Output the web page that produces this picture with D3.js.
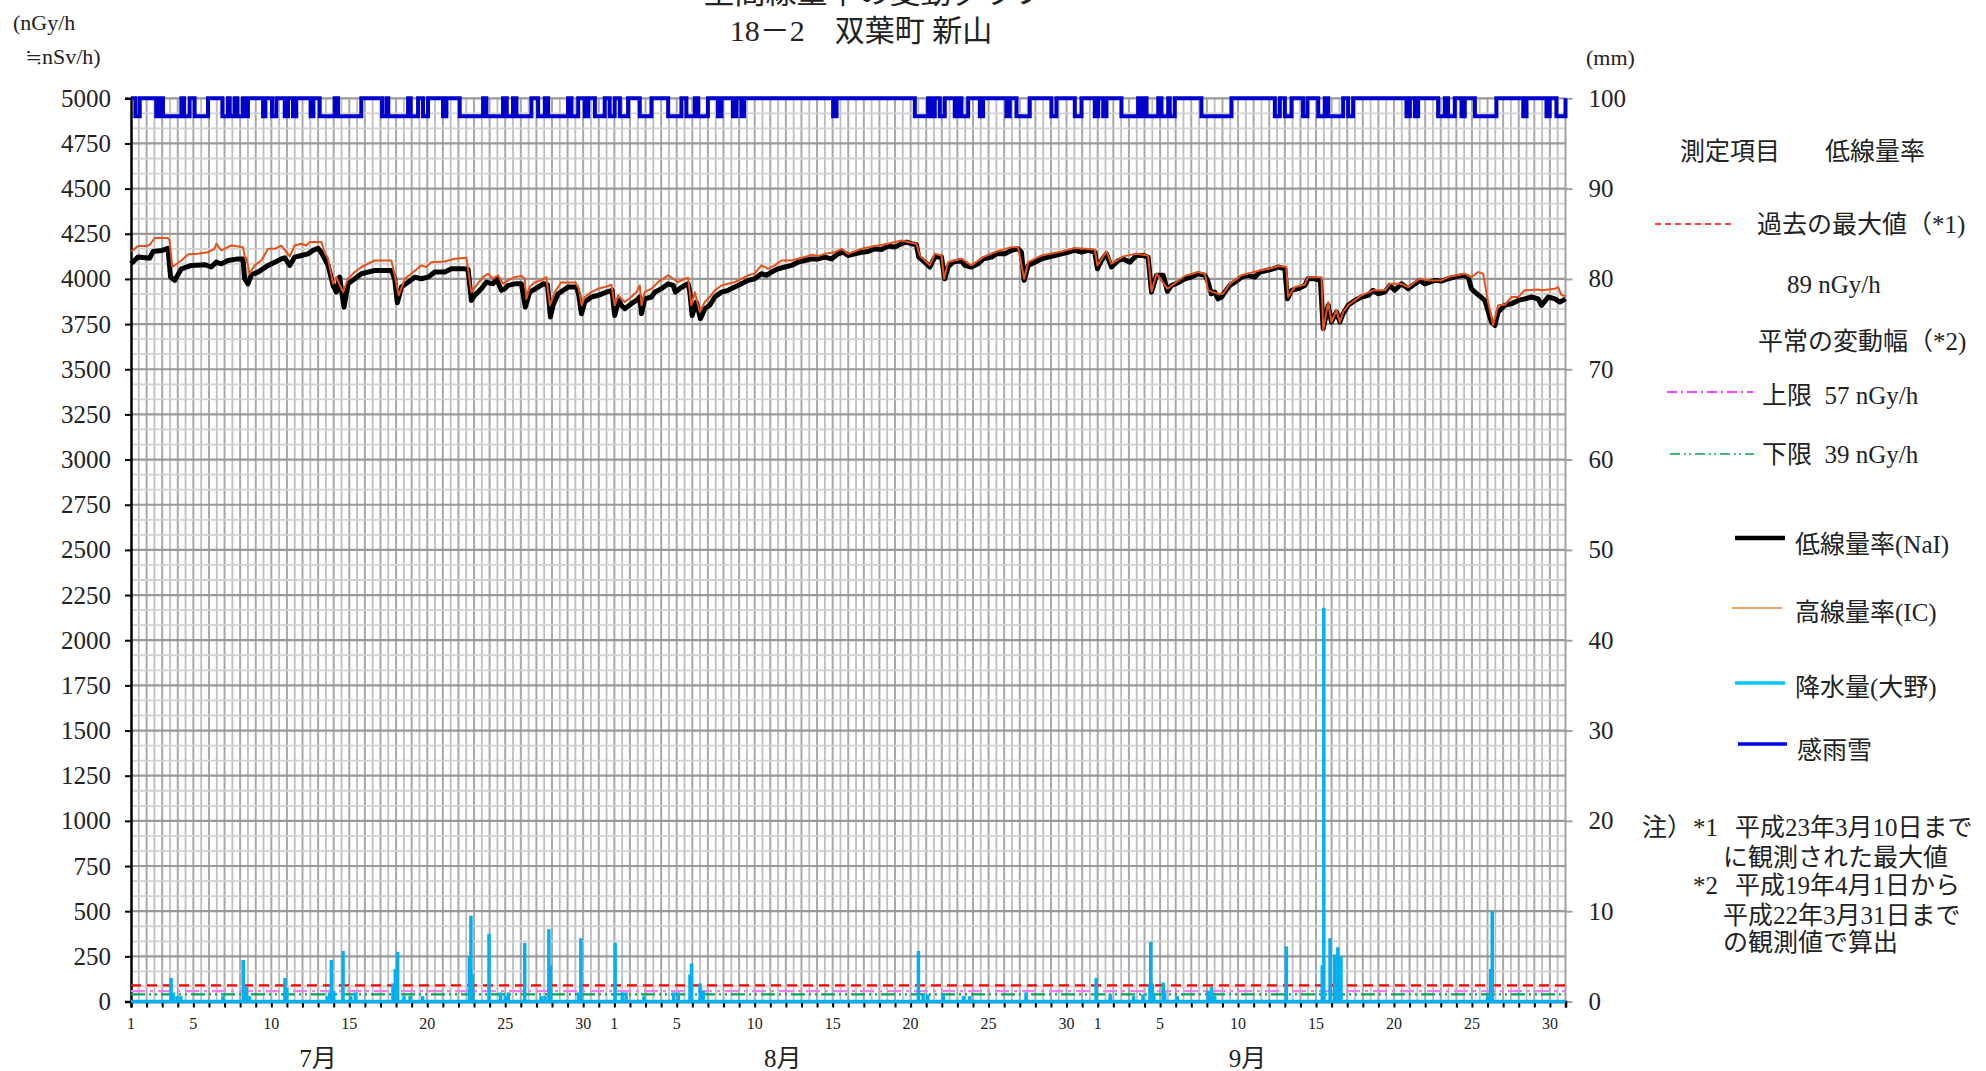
<!DOCTYPE html>
<html lang="ja">
<head>
<meta charset="utf-8">
<title>空間線量率の変動グラフ 18－2 双葉町 新山</title>
<script src="https://cdn.jsdelivr.net/npm/d3@7"></script>
<style>
  html, body { margin: 0; padding: 0; background: #fff; }
  svg { display: block; }
  text { font-family: "Liberation Serif", "Noto Sans CJK JP", serif; fill: #222; }
</style>
</head>
<body>
<svg id="chart" width="1986" height="1071"></svg>
<script>
// ---- axis ticks -------------------------------------------------------------
const leftTicks  = d3.range(0, 5001, 250);          // nGy/h
const rightTicks = d3.range(0, 101, 10);            // mm
const monthNames = ["7月", "8月", "9月"];
const monthStart = [0, 31, 62];                     // day offset of the 1st of each month
const monthLabelDay = [12.0, 41.8, 71.6];           // where each month caption sits
const dayLabels  = [1, 5, 10, 15, 20, 25, 30];
const totalDays  = 92;

// ---- reference levels (nGy/h) -----------------------------------------------
const pastMax   = 89;
const upperNorm = 57;
const lowerNorm = 39;

// ---- 低線量率 (NaI) : [day offset, nGy/h] ----------------------------------------
const nai = [
  [0.0,4084],[0.45,4121],[1.2,4115],[1.41,4152],[2.0,4158],[2.37,4170],[2.54,4010],[2.8,3992],
  [3.23,4056],[3.87,4075],[4.73,4079],[5.15,4066],[5.47,4093],[5.79,4084],[6.22,4102],[6.86,4111],
  [7.18,4111],[7.29,4001],[7.5,3973],[7.72,4023],[8.15,4038],[8.79,4075],[9.22,4093],[9.64,4111],
  [9.86,4117],[10.18,4075],[10.5,4121],[10.93,4130],[11.35,4139],[11.67,4158],[12.0,4170],[12.17,4152],
  [12.42,4111],[12.64,4075],[12.96,3964],[13.17,3927],[13.38,4010],[13.66,3844],[13.92,3973],[14.35,4001],
  [14.78,4029],[15.2,4038],[15.63,4047],[16.7,4047],[16.91,4001],[17.08,3868],[17.34,3955],[17.77,3982],
  [18.2,4010],[18.62,4001],[19.05,4010],[19.48,4038],[20.12,4038],[20.55,4056],[21.4,4056],[21.62,4052],
  [21.83,3881],[22.04,3909],[22.47,3946],[22.79,3982],[23.22,3973],[23.43,4001],[23.76,3937],[23.97,3946],
  [24.18,3964],[24.61,3973],[25.04,3973],[25.29,3844],[25.57,3927],[26.11,3955],[26.43,3973],[26.71,3968],
  [26.9,3789],[27.07,3854],[27.39,3918],[28.03,3955],[28.57,3955],[28.72,3909],[28.89,3807],[29.1,3872],
  [29.53,3900],[29.96,3909],[30.49,3927],[30.85,3937],[31.02,3798],[31.28,3881],[31.45,3854],[31.67,3835],
  [32.09,3863],[32.41,3881],[32.63,3900],[32.74,3807],[32.95,3890],[33.38,3900],[33.59,3927],[34.02,3946],
  [34.45,3973],[34.77,3964],[34.92,3927],[35.19,3946],[35.51,3964],[35.73,3973],[35.84,3927],[35.99,3798],
  [36.26,3872],[36.52,3780],[36.8,3835],[37.12,3854],[37.44,3900],[37.87,3927],[38.29,3937],[38.72,3955],
  [39.15,3973],[39.58,3992],[40.0,4001],[40.43,4029],[40.75,4020],[41.07,4038],[41.5,4056],[41.93,4066],
  [42.36,4075],[42.78,4093],[43.21,4102],[43.64,4111],[44.07,4111],[44.5,4121],[44.92,4111],[45.35,4139],
  [45.67,4148],[45.99,4130],[46.42,4139],[46.85,4148],[47.27,4152],[47.7,4167],[48.13,4163],[48.56,4182],
  [48.98,4176],[49.41,4195],[49.73,4204],[50.05,4195],[50.37,4189],[50.52,4121],[50.91,4093],[51.23,4066],
  [51.55,4121],[51.98,4121],[52.19,4001],[52.4,4066],[52.72,4093],[53.26,4102],[53.47,4075],[53.9,4066],
  [54.33,4084],[54.65,4111],[55.18,4121],[55.5,4139],[56.04,4139],[56.47,4158],[56.89,4167],[57.11,4148],
  [57.28,3992],[57.54,4075],[57.96,4093],[58.39,4111],[58.82,4121],[59.25,4130],[59.67,4139],[60.1,4148],
  [60.53,4158],[60.96,4148],[61.38,4158],[61.81,4148],[61.98,4056],[62.24,4102],[62.56,4139],[62.88,4066],
  [63.31,4102],[63.63,4111],[64.06,4093],[64.48,4130],[64.91,4130],[65.23,4121],[65.45,3927],[65.77,4020],
  [66.2,4020],[66.47,3931],[66.73,3964],[67.16,3979],[67.58,4001],[68.01,4010],[68.44,4029],[68.87,4020],
  [69.05,3990],[69.29,3918],[69.51,3927],[69.72,3890],[69.94,3900],[70.15,3927],[70.47,3964],[70.79,3982],
  [71.22,4010],[71.65,4020],[72.07,4010],[72.39,4038],[72.82,4047],[73.25,4056],[73.57,4066],[74.0,4056],
  [74.17,3890],[74.43,3937],[74.85,3946],[75.28,3964],[75.49,4001],[75.92,4001],[76.28,3992],[76.46,3725],
  [76.78,3854],[76.99,3762],[77.31,3817],[77.53,3762],[77.74,3808],[78.06,3854],[78.49,3881],[78.92,3900],
  [79.34,3909],[79.66,3937],[79.98,3918],[80.41,3927],[80.73,3964],[81.05,3937],[81.48,3973],[81.91,3946],
  [82.34,3973],[82.66,3992],[82.98,3973],[83.62,3992],[84.05,3988],[84.47,4001],[84.9,4010],[85.44,4020],
  [85.76,4010],[85.97,3946],[86.19,3927],[86.83,3881],[87.25,3762],[87.47,3743],[87.68,3817],[88.11,3854],
  [88.54,3863],[88.96,3881],[89.39,3890],[89.82,3900],[90.25,3890],[90.46,3854],[90.89,3900],[91.32,3890],
  [91.64,3872],[92.0,3890]
];

// ---- 高線量率 (IC) : [day offset, nGy/h] -----------------------------------------
const ic = [
  [0.02,4152],[0.45,4182],[1.0,4182],[1.2,4189],[1.52,4226],[2.37,4226],[2.47,4213],[2.65,4066],
  [3.23,4102],[3.66,4136],[4.28,4139],[4.94,4148],[5.36,4167],[5.47,4195],[5.79,4158],[6.43,4185],
  [7.18,4176],[7.33,4112],[7.4,4117],[7.6,4029],[7.93,4075],[8.36,4102],[8.79,4167],[9.22,4167],
  [9.64,4185],[10.18,4125],[10.5,4185],[10.93,4195],[11.25,4185],[11.46,4204],[12.21,4204],[12.42,4148],
  [12.64,4112],[12.96,3973],[13.17,4010],[13.38,3968],[13.6,3927],[13.92,4001],[14.35,4038],[14.78,4066],
  [15.2,4084],[15.63,4102],[16.7,4102],[16.96,4001],[17.17,3909],[17.56,4001],[17.98,4029],[18.62,4075],
  [18.94,4066],[19.26,4093],[20.12,4097],[20.76,4112],[21.51,4117],[21.83,3927],[22.15,3964],[22.58,4010],
  [22.9,4029],[23.22,4001],[23.54,4020],[23.86,3973],[24.18,3992],[24.61,4010],[25.04,4016],[25.25,4001],
  [25.36,3890],[25.57,3955],[25.89,3982],[26.32,3992],[26.64,4010],[26.86,3854],[27.18,3927],[27.6,3982],
  [28.03,3979],[28.5,3982],[28.72,3946],[28.9,3854],[29.1,3900],[29.53,3927],[29.96,3946],[30.38,3955],
  [30.81,3968],[31.02,3854],[31.24,3909],[31.45,3890],[31.67,3872],[32.09,3900],[32.41,3927],[32.63,3964],
  [32.74,3854],[32.95,3927],[33.38,3946],[33.8,3982],[34.45,4020],[34.77,4001],[35.09,3982],[35.51,4001],
  [35.73,4005],[35.94,3854],[36.16,3927],[36.48,3817],[36.8,3872],[37.12,3900],[37.44,3937],[37.87,3964],
  [38.29,3973],[38.72,3982],[39.15,4001],[39.58,4020],[40.0,4029],[40.43,4075],[40.86,4056],[41.29,4075],
  [41.72,4102],[42.36,4102],[42.78,4112],[43.21,4121],[43.64,4134],[44.07,4127],[44.5,4139],[45.14,4148],
  [45.57,4167],[45.99,4139],[46.85,4167],[47.7,4182],[48.56,4195],[49.41,4213],[50.05,4200],[50.37,4195],
  [50.59,4130],[51.23,4075],[51.55,4139],[51.98,4130],[52.15,4001],[52.4,4093],[53.26,4112],[53.9,4075],
  [54.65,4121],[55.5,4152],[56.47,4176],[56.89,4176],[57.28,4001],[57.54,4093],[58.39,4130],[59.67,4152],
  [60.53,4171],[61.81,4163],[61.98,4075],[62.56,4152],[62.88,4084],[63.63,4125],[64.48,4139],[65.23,4130],
  [65.45,3931],[65.77,4029],[66.47,3946],[67.58,4016],[68.44,4038],[68.87,4029],[69.08,3937],[69.4,3927],
  [69.72,3918],[70.04,3918],[70.47,3973],[71.22,4020],[72.39,4047],[73.25,4062],[73.57,4071],[74.1,4066],
  [74.21,3900],[74.64,3955],[75.28,3968],[75.49,4010],[76.35,4010],[76.46,3715],[76.78,3872],[76.99,3761],
  [77.31,3826],[77.53,3761],[77.74,3817],[78.06,3854],[78.92,3909],[79.66,3937],[80.41,3937],[80.73,3973],
  [81.48,3973],[81.91,3955],[82.34,3982],[82.66,4001],[83.19,3992],[84.05,3992],[84.47,4010],[85.54,4029],
  [85.97,4010],[86.4,4038],[86.72,4029],[87.04,3872],[87.36,3743],[87.68,3854],[88.11,3857],[88.54,3900],
  [88.96,3900],[89.39,3937],[90.25,3942],[90.46,3937],[91.32,3946],[91.53,3955],[91.75,3909],[92.0,3905]
];

// ---- 降水量 (大野) : [day offset, mm] --------------------------------------------
const rain = [
  [2.57,2.6],[2.7,1.0],[2.95,0.6],[3.2,0.6],[5.9,0.6],[7.2,4.6],[7.4,1.6],[7.6,0.6],
  [9.87,2.6],[10.0,1.5],[12.6,0.6],[12.75,1.0],[12.85,4.6],[13.0,1.2],[13.6,5.6],[14.1,0.6],
  [14.4,1.0],[16.8,2.0],[16.95,3.6],[17.1,5.5],[17.5,0.6],[17.9,0.6],[18.7,0.6],[21.7,5.0],
  [21.8,9.5],[21.9,3.0],[22.96,7.5],[23.7,1.0],[24.0,0.6],[24.2,1.0],[25.25,6.5],[26.3,0.6],
  [26.55,0.6],[26.8,8.0],[26.9,4.0],[28.7,1.0],[28.85,7.0],[31.05,6.5],[31.5,1.0],[31.75,1.0],
  [32.9,0.6],[34.8,1.0],[35.1,1.0],[35.85,3.0],[35.95,4.2],[36.5,2.0],[36.7,1.2],[50.5,5.6],
  [50.8,0.8],[51.1,0.8],[52.1,0.8],[53.4,0.6],[53.8,0.6],[57.4,1.0],[61.9,2.6],[62.8,0.8],
  [64.3,0.6],[64.9,0.8],[65.35,2.0],[65.4,6.6],[65.5,2.0],[65.6,0.8],[66.2,2.1],[66.3,1.0],
  [67.1,0.6],[69.1,1.2],[69.3,1.6],[69.5,0.6],[74.1,6.1],[76.4,4.0],[76.5,43.6],[76.9,7.0],
  [77.2,5.2],[77.4,6.0],[77.6,5.0],[87.0,0.6],[87.2,3.6],[87.3,10.0]
];

// ---- 感雨雪 : periods (day offsets) with precipitation sensed --------------------
const senseOn = 98, senseOff = 100;                 // plotted on the mm axis
const sensed = [
  [0.28,0.56],[1.62,1.84],[2.05,3.23],[3.4,3.76],[4.08,4.94],[5.86,6.22],[6.33,6.65],[6.82,7.18],
  [7.29,7.5],[8.47,8.62],[9.04,9.32],[9.86,10.07],[10.39,10.6],[11.52,11.7],[12.1,13.06],[13.28,14.77],
  [16.1,16.38],[16.5,17.77],[17.94,18.41],[18.73,19.05],[20.01,20.23],[21.08,22.58],[22.79,23.86],
  [24.1,24.5],[24.72,25.68],[26.11,26.54],[26.75,28.03],[28.25,28.68],[29.1,29.32],[29.75,30.38],
  [30.7,31.02],[31.35,31.88],[32.63,33.38],[34.45,35.3],[35.62,36.16],[36.37,37.0],[37.65,37.87],
  [38.61,38.83],[39.15,39.32],[45.03,45.25],[50.27,51.12],[51.33,51.55],[51.87,52.19],[52.83,53.05],
  [53.26,53.69],[54.44,54.65],[56.15,56.36],[56.79,57.64],[59.03,59.35],[60.53,60.96],[61.81,62.03],
  [62.35,62.56],[63.52,64.59],[64.8,65.02],[65.13,65.88],[66.09,66.52],[66.62,66.94],[68.65,70.58],
  [73.36,73.68],[74.0,74.43],[75.17,75.45],[76.14,76.56],[76.78,77.74],[78.06,78.38],[81.8,82.02],
  [82.34,82.55],[83.83,84.26],[84.47,84.9],[85.33,85.54],[86.19,87.57],[89.29,89.5],[90.78,90.99],
  [91.42,92.0]
];

// ---- layout ---------------------------------------------------------------------
const svg = d3.select("#chart");
const plot = { left: 131, right: 1565.5, top: 98.3, bottom: 1001.5 };

const x  = d3.scaleLinear().domain([0, totalDays]).range([plot.left, plot.right]);
const yL = d3.scaleLinear().domain([0, 5000]).range([plot.bottom, plot.top]);
const yR = d3.scaleLinear().domain([0, 100]).range([plot.bottom, plot.top]);

const grid = svg.append("g");

// half-day vertical grid, then full-day grid on top
grid.selectAll("line.vh").data(d3.range(0.5, totalDays, 1)).join("line")
  .attr("x1", d => x(d)).attr("x2", d => x(d))
  .attr("y1", plot.top).attr("y2", plot.bottom)
  .attr("stroke", "#bdbdbd").attr("stroke-width", 1.8);
grid.selectAll("line.vd").data(d3.range(1, totalDays, 1)).join("line")
  .attr("x1", d => x(d)).attr("x2", d => x(d))
  .attr("y1", plot.top).attr("y2", plot.bottom)
  .attr("stroke", "#a8a8a8").attr("stroke-width", 2);

// minor and major horizontal grid
const minorH = d3.range(0, 5000, 250 / 3).filter(v => v % 250 > 1 && v % 250 < 249);
grid.selectAll("line.hm").data(minorH).join("line")
  .attr("x1", plot.left).attr("x2", plot.right)
  .attr("y1", d => yL(d)).attr("y2", d => yL(d))
  .attr("stroke", "#d2d2d2").attr("stroke-width", 1.8);
grid.selectAll("line.hM").data(leftTicks.filter(v => v > 0)).join("line")
  .attr("x1", plot.left).attr("x2", plot.right)
  .attr("y1", d => yL(d)).attr("y2", d => yL(d))
  .attr("stroke", "#999999").attr("stroke-width", 2.2);

// right border
svg.append("line")
  .attr("x1", plot.right).attr("x2", plot.right)
  .attr("y1", plot.top).attr("y2", plot.bottom)
  .attr("stroke", "#a0a0a0").attr("stroke-width", 2);

// ---- axes -------------------------------------------------------------------------
const leftAxis = d3.axisLeft(yL).tickValues(leftTicks).tickFormat(d3.format("d"))
  .tickSize(6).tickPadding(14);
const gL = svg.append("g").attr("transform", `translate(${plot.left},0)`).call(leftAxis);
gL.select(".domain").attr("stroke", "#000").attr("stroke-width", 2.5);
gL.selectAll(".tick line").attr("stroke", "#000").attr("stroke-width", 2);
gL.selectAll(".tick text").attr("font-size", 25).attr("fill", "#222")
  .attr("font-family", "Liberation Serif, serif");

const rightAxis = d3.axisRight(yR).tickValues(rightTicks).tickFormat(d3.format("d"))
  .tickSize(7).tickPadding(16);
const gR = svg.append("g").attr("transform", `translate(${plot.right},0)`).call(rightAxis);
gR.select(".domain").remove();
gR.selectAll(".tick line").attr("stroke", "#a0a0a0").attr("stroke-width", 2);
gR.selectAll(".tick text").attr("font-size", 25).attr("fill", "#222")
  .attr("font-family", "Liberation Serif, serif");

// bottom axis: a tick every day, numbered on selected days
const bottomAxis = d3.axisBottom(x).tickValues(d3.range(0, totalDays + 1, 1)).tickSize(6).tickFormat("");
const gB = svg.append("g").attr("transform", `translate(0,${plot.bottom})`).call(bottomAxis);
gB.select(".domain").attr("stroke", "#000").attr("stroke-width", 2.5);
gB.selectAll(".tick line").attr("stroke", "#000").attr("stroke-width", 2);

const dayTickData = [];
monthStart.forEach(ms => dayLabels.forEach(d => dayTickData.push({ t: ms + d - 1, label: String(d) })));
svg.append("g").selectAll("text").data(dayTickData).join("text")
  .attr("x", d => x(d.t)).attr("y", plot.bottom + 27)
  .attr("text-anchor", "middle").attr("font-size", 16).text(d => d.label);

svg.append("g").selectAll("text").data(monthNames).join("text")
  .attr("x", (d, i) => x(monthLabelDay[i])).attr("y", plot.bottom + 65)
  .attr("text-anchor", "middle").attr("font-size", 25).text(d => d);

// ---- reference levels -------------------------------------------------------------
const levels = [
  { v: pastMax,   color: "#ff0000", dash: "10,6" },
  { v: upperNorm, color: "#f27cf2", dash: "14,5,3,5" },
  { v: lowerNorm, color: "#00a651", dash: "14,4,2,4,2,4" }
];
svg.append("g").selectAll("line").data(levels).join("line")
  .attr("x1", plot.left).attr("x2", plot.right)
  .attr("y1", d => yL(d.v)).attr("y2", d => yL(d.v))
  .attr("stroke", d => d.color).attr("stroke-width", 2.2).attr("stroke-dasharray", d => d.dash);

// ---- precipitation ---------------------------------------------------------------------
const rainG = svg.append("g");
rainG.append("line")
  .attr("x1", plot.left).attr("x2", plot.right)
  .attr("y1", yR(0)).attr("y2", yR(0))
  .attr("stroke", "#00b0f0").attr("stroke-width", 3.5);
rainG.selectAll("line.r").data(rain).join("line")
  .attr("x1", d => x(d[0])).attr("x2", d => x(d[0]))
  .attr("y1", yR(0)).attr("y2", d => yR(d[1]))
  .attr("stroke", "#00b0f0").attr("stroke-width", 3.5);

// ---- 感雨雪 step trace ---------------------------------------------------------------
const sensePts = [[0, senseOff]];
sensed.forEach(([a, b]) => { sensePts.push([a, senseOff], [a, senseOn], [b, senseOn], [b, senseOff]); });
sensePts.push([totalDays, senseOff]);
svg.append("path").datum(sensePts)
  .attr("d", d3.line().x(d => x(d[0])).y(d => yR(d[1])))
  .attr("fill", "none").attr("stroke", "#0000cc").attr("stroke-width", 4);

// ---- dose-rate traces --------------------------------------------------------------------
const lineL = d3.line().x(d => x(d[0])).y(d => yL(d[1]));
svg.append("path").datum(nai).attr("d", lineL)
  .attr("fill", "none").attr("stroke", "#000").attr("stroke-width", 5).attr("stroke-linejoin", "round");
svg.append("path").datum(ic).attr("d", lineL)
  .attr("fill", "none").attr("stroke", "#e5531a").attr("stroke-width", 2).attr("stroke-linejoin", "round");

// ---- titles and units --------------------------------------------------------------------
svg.append("text").attr("x", 874).attr("y", 3).attr("text-anchor", "middle")
  .attr("font-size", 31).text("空間線量率の変動グラフ");
svg.append("text").attr("x", 861).attr("y", 41).attr("text-anchor", "middle")
  .attr("font-size", 30).text("18－2　双葉町 新山");
svg.append("text").attr("x", 13).attr("y", 30).attr("font-size", 22).text("(nGy/h");
svg.append("text").attr("x", 25).attr("y", 64).attr("font-size", 22).text("≒nSv/h)");
svg.append("text").attr("x", 1586).attr("y", 65).attr("font-size", 22).text("(mm)");

// ---- legend ---------------------------------------------------------------------------------
const legendText = [
  { x: 1680, y: 160, s: "測定項目" },
  { x: 1825, y: 160, s: "低線量率" },
  { x: 1757, y: 233, s: "過去の最大値（*1)" },
  { x: 1787, y: 293, s: "89 nGy/h" },
  { x: 1758, y: 350, s: "平常の変動幅（*2)" },
  { x: 1762, y: 404, s: "上限  57 nGy/h" },
  { x: 1762, y: 463, s: "下限  39 nGy/h" },
  { x: 1795, y: 553, s: "低線量率(NaI)" },
  { x: 1795, y: 621, s: "高線量率(IC)" },
  { x: 1795, y: 696, s: "降水量(大野)" },
  { x: 1797, y: 759, s: "感雨雪" }
];
svg.append("g").selectAll("text").data(legendText).join("text")
  .attr("x", d => d.x).attr("y", d => d.y).attr("font-size", 25)
  .attr("xml:space", "preserve").style("white-space", "pre").text(d => d.s);

const legendLines = [
  { x1: 1655, x2: 1735, y: 224, color: "#ff0000", w: 1.5, dash: "6,4" },
  { x1: 1667, x2: 1753, y: 392, color: "#ff00ff", w: 1.5, dash: "10,4,2,4" },
  { x1: 1670, x2: 1754, y: 454, color: "#00a651", w: 1.5, dash: "10,4,2,3,2,4" },
  { x1: 1735, x2: 1785, y: 538, color: "#000000", w: 4.5, dash: null },
  { x1: 1732, x2: 1782, y: 608, color: "#f4a460", w: 1.8, dash: null },
  { x1: 1735, x2: 1785, y: 683, color: "#00c8f8", w: 3.5, dash: null },
  { x1: 1738, x2: 1787, y: 744, color: "#0000ee", w: 3.5, dash: null }
];
svg.append("g").selectAll("line").data(legendLines).join("line")
  .attr("x1", d => d.x1).attr("x2", d => d.x2).attr("y1", d => d.y).attr("y2", d => d.y)
  .attr("stroke", d => d.color).attr("stroke-width", d => d.w)
  .attr("stroke-dasharray", d => d.dash);

const notes = [
  { x: 1642, y: 836, s: "注）" },
  { x: 1693, y: 836, s: "*1" },
  { x: 1735, y: 836, s: "平成23年3月10日まで" },
  { x: 1723, y: 866, s: "に観測された最大値" },
  { x: 1693, y: 894, s: "*2" },
  { x: 1735, y: 894, s: "平成19年4月1日から" },
  { x: 1723, y: 924, s: "平成22年3月31日まで" },
  { x: 1723, y: 951, s: "の観測値で算出" }
];
svg.append("g").selectAll("text").data(notes).join("text")
  .attr("x", d => d.x).attr("y", d => d.y).attr("font-size", 25).text(d => d.s);
</script>
</body>
</html>
